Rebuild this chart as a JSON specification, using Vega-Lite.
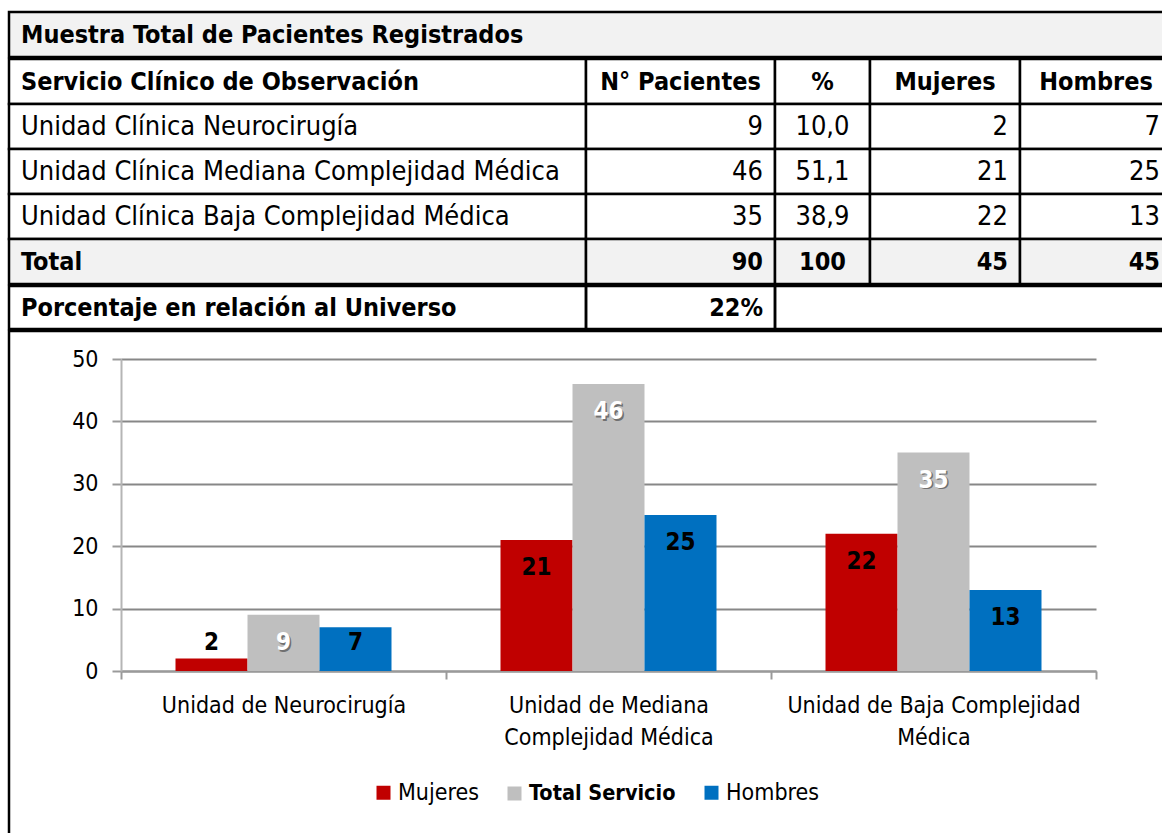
{
  "$schema": "https://vega.github.io/schema/vega-lite/v6.json",
  "padding": {"left": 7, "top": 10, "right": 0, "bottom": 0},
  "background": "white",
  "spacing": -5,
  "datasets": {
    "titulo": [{"titulo": "Muestra Total de Pacientes Registrados"}],
    "tabla": [
      {"servicio": "Servicio Clínico de Observación", "pacientes": "N° Pacientes", "porcentaje": "%", "mujeres": "Mujeres", "hombres": "Hombres"},
      {"servicio": "Unidad Clínica Neurocirugía", "pacientes": "9", "porcentaje": "10,0", "mujeres": "2", "hombres": "7"},
      {"servicio": "Unidad Clínica Mediana Complejidad Médica", "pacientes": "46", "porcentaje": "51,1", "mujeres": "21", "hombres": "25"},
      {"servicio": "Unidad Clínica Baja Complejidad Médica", "pacientes": "35", "porcentaje": "38,9", "mujeres": "22", "hombres": "13"},
      {"servicio": "Total", "pacientes": "90", "porcentaje": "100", "mujeres": "45", "hombres": "45"}
    ],
    "universo": [{"servicio": "Porcentaje en relación al Universo", "valor": "22%", "resto": ""}],
    "grafico": [
      {"unidad": "Unidad de Neurocirugía", "serie": "Mujeres", "valor": 2},
      {"unidad": "Unidad de Neurocirugía", "serie": "Total Servicio", "valor": 9},
      {"unidad": "Unidad de Neurocirugía", "serie": "Hombres", "valor": 7},
      {"unidad": "Unidad de Mediana Complejidad Médica", "serie": "Mujeres", "valor": 21},
      {"unidad": "Unidad de Mediana Complejidad Médica", "serie": "Total Servicio", "valor": 46},
      {"unidad": "Unidad de Mediana Complejidad Médica", "serie": "Hombres", "valor": 25},
      {"unidad": "Unidad de Baja Complejidad Médica", "serie": "Mujeres", "valor": 22},
      {"unidad": "Unidad de Baja Complejidad Médica", "serie": "Total Servicio", "valor": 35},
      {"unidad": "Unidad de Baja Complejidad Médica", "serie": "Hombres", "valor": 13}
    ]
  },
  "vconcat": [
    {
      "width": 1163, "height": 45,
      "view": {"fill": "#f2f2f2", "stroke": "black", "strokeWidth": 2.5},
      "data": {"name": "titulo"},
      "mark": {"type": "text", "align": "left", "dx": 12, "fontWeight": "bold", "fontSize": 25},
      "encoding": {
        "x": {"datum": "t", "type": "nominal", "axis": null, "bandPosition": 0, "scale": {"type": "band", "paddingInner": 0, "paddingOuter": 0}},
        "text": {"field": "titulo"}
      }
    },
    {
      "bounds": "flush",
      "spacing": 0,
      "hconcat": [
        {
          "width": 577, "height": 225,
          "data": {"name": "tabla"},
          "encoding": {
            "y": {"field": "servicio", "type": "nominal", "axis": null, "scale": {"domain": ["Servicio Clínico de Observación", "Unidad Clínica Neurocirugía", "Unidad Clínica Mediana Complejidad Médica", "Unidad Clínica Baja Complejidad Médica", "Total"], "paddingInner": 0, "paddingOuter": 0}},
            "x": {"datum": "c", "type": "nominal", "axis": null, "scale": {"type": "band", "paddingInner": 0, "paddingOuter": 0}}
          },
          "layer": [
            {"mark": {"type": "rect", "stroke": "black", "strokeWidth": 2.5},
             "encoding": {"fill": {"condition": {"test": "datum.servicio == 'Total'", "value": "#f2f2f2"}, "value": "white"}}},
            {"transform": [{"filter": "datum.servicio == 'Total' || datum.servicio == 'Servicio Clínico de Observación'"}],
             "mark": {"type": "text", "align": "left", "dx": 12, "fontWeight": "bold", "fontSize": 25},
             "encoding": {"text": {"field": "servicio"}, "x": {"datum": "c", "type": "nominal", "bandPosition": 0}}},
            {"transform": [{"filter": "datum.servicio != 'Total' && datum.servicio != 'Servicio Clínico de Observación'"}],
             "mark": {"type": "text", "align": "left", "dx": 12, "fontSize": 27},
             "encoding": {"text": {"field": "servicio"}, "x": {"datum": "c", "type": "nominal", "bandPosition": 0}}}
          ]
        },
        {
          "width": 189, "height": 225,
          "data": {"name": "tabla"},
          "encoding": {
            "y": {"field": "servicio", "type": "nominal", "axis": null, "scale": {"domain": ["Servicio Clínico de Observación", "Unidad Clínica Neurocirugía", "Unidad Clínica Mediana Complejidad Médica", "Unidad Clínica Baja Complejidad Médica", "Total"], "paddingInner": 0, "paddingOuter": 0}},
            "x": {"datum": "c", "type": "nominal", "axis": null, "scale": {"type": "band", "paddingInner": 0, "paddingOuter": 0}}
          },
          "layer": [
            {"mark": {"type": "rect", "stroke": "black", "strokeWidth": 2.5},
             "encoding": {"fill": {"condition": {"test": "datum.servicio == 'Total'", "value": "#f2f2f2"}, "value": "white"}}},
            {"transform": [{"filter": "datum.servicio == 'Servicio Clínico de Observación'"}],
             "mark": {"type": "text", "align": "center", "fontWeight": "bold", "fontSize": 25},
             "encoding": {"text": {"field": "pacientes"}}},
            {"transform": [{"filter": "datum.servicio != 'Servicio Clínico de Observación'"}],
             "mark": {"type": "text", "align": "right", "dx": -12, "fontSize": {"expr": "datum.servicio == 'Total' ? 25 : 27"}, "fontWeight": {"expr": "datum.servicio == 'Total' ? 'bold' : 'normal'"}},
             "encoding": {"text": {"field": "pacientes"}, "x": {"datum": "c", "type": "nominal", "bandPosition": 1}}}
          ]
        },
        {
          "width": 95, "height": 225,
          "data": {"name": "tabla"},
          "encoding": {
            "y": {"field": "servicio", "type": "nominal", "axis": null, "scale": {"domain": ["Servicio Clínico de Observación", "Unidad Clínica Neurocirugía", "Unidad Clínica Mediana Complejidad Médica", "Unidad Clínica Baja Complejidad Médica", "Total"], "paddingInner": 0, "paddingOuter": 0}},
            "x": {"datum": "c", "type": "nominal", "axis": null, "scale": {"type": "band", "paddingInner": 0, "paddingOuter": 0}}
          },
          "layer": [
            {"mark": {"type": "rect", "stroke": "black", "strokeWidth": 2.5},
             "encoding": {"fill": {"condition": {"test": "datum.servicio == 'Total'", "value": "#f2f2f2"}, "value": "white"}}},
            {"mark": {"type": "text", "align": "center",
                      "fontSize": {"expr": "datum.servicio == 'Total' || datum.servicio == 'Servicio Clínico de Observación' ? 25 : 27"},
                      "fontWeight": {"expr": "datum.servicio == 'Total' || datum.servicio == 'Servicio Clínico de Observación' ? 'bold' : 'normal'"}},
             "encoding": {"text": {"field": "porcentaje"}}}
          ]
        },
        {
          "width": 150, "height": 225,
          "data": {"name": "tabla"},
          "encoding": {
            "y": {"field": "servicio", "type": "nominal", "axis": null, "scale": {"domain": ["Servicio Clínico de Observación", "Unidad Clínica Neurocirugía", "Unidad Clínica Mediana Complejidad Médica", "Unidad Clínica Baja Complejidad Médica", "Total"], "paddingInner": 0, "paddingOuter": 0}},
            "x": {"datum": "c", "type": "nominal", "axis": null, "scale": {"type": "band", "paddingInner": 0, "paddingOuter": 0}}
          },
          "layer": [
            {"mark": {"type": "rect", "stroke": "black", "strokeWidth": 2.5},
             "encoding": {"fill": {"condition": {"test": "datum.servicio == 'Total'", "value": "#f2f2f2"}, "value": "white"}}},
            {"transform": [{"filter": "datum.servicio == 'Servicio Clínico de Observación'"}],
             "mark": {"type": "text", "align": "center", "fontWeight": "bold", "fontSize": 25},
             "encoding": {"text": {"field": "mujeres"}}},
            {"transform": [{"filter": "datum.servicio != 'Servicio Clínico de Observación'"}],
             "mark": {"type": "text", "align": "right", "dx": -12, "fontSize": {"expr": "datum.servicio == 'Total' ? 25 : 27"}, "fontWeight": {"expr": "datum.servicio == 'Total' ? 'bold' : 'normal'"}},
             "encoding": {"text": {"field": "mujeres"}, "x": {"datum": "c", "type": "nominal", "bandPosition": 1}}}
          ]
        },
        {
          "width": 152, "height": 225,
          "data": {"name": "tabla"},
          "encoding": {
            "y": {"field": "servicio", "type": "nominal", "axis": null, "scale": {"domain": ["Servicio Clínico de Observación", "Unidad Clínica Neurocirugía", "Unidad Clínica Mediana Complejidad Médica", "Unidad Clínica Baja Complejidad Médica", "Total"], "paddingInner": 0, "paddingOuter": 0}},
            "x": {"datum": "c", "type": "nominal", "axis": null, "scale": {"type": "band", "paddingInner": 0, "paddingOuter": 0}}
          },
          "layer": [
            {"mark": {"type": "rect", "stroke": "black", "strokeWidth": 2.5},
             "encoding": {"fill": {"condition": {"test": "datum.servicio == 'Total'", "value": "#f2f2f2"}, "value": "white"}}},
            {"transform": [{"filter": "datum.servicio == 'Servicio Clínico de Observación'"}],
             "mark": {"type": "text", "align": "center", "fontWeight": "bold", "fontSize": 25},
             "encoding": {"text": {"field": "hombres"}}},
            {"transform": [{"filter": "datum.servicio != 'Servicio Clínico de Observación'"}],
             "mark": {"type": "text", "align": "right", "dx": -12, "fontSize": {"expr": "datum.servicio == 'Total' ? 25 : 27"}, "fontWeight": {"expr": "datum.servicio == 'Total' ? 'bold' : 'normal'"}},
             "encoding": {"text": {"field": "hombres"}, "x": {"datum": "c", "type": "nominal", "bandPosition": 1}}}
          ]
        }
      ]
    },
    {
      "bounds": "flush",
      "spacing": 0,
      "hconcat": [
        {
          "width": 577, "height": 43,
          "view": {"stroke": "black", "strokeWidth": 2.5},
          "data": {"name": "universo"},
          "mark": {"type": "text", "align": "left", "dx": 12, "fontWeight": "bold", "fontSize": 25},
          "encoding": {
            "x": {"datum": "c", "type": "nominal", "axis": null, "bandPosition": 0, "scale": {"type": "band", "paddingInner": 0, "paddingOuter": 0}},
            "text": {"field": "servicio"}
          }
        },
        {
          "width": 189, "height": 43,
          "view": {"stroke": "black", "strokeWidth": 2.5},
          "data": {"name": "universo"},
          "mark": {"type": "text", "align": "right", "dx": -12, "fontWeight": "bold", "fontSize": 25},
          "encoding": {
            "x": {"datum": "c", "type": "nominal", "axis": null, "bandPosition": 1, "scale": {"type": "band", "paddingInner": 0, "paddingOuter": 0}},
            "text": {"field": "valor"}
          }
        },
        {
          "width": 397, "height": 43,
          "view": {"stroke": "black", "strokeWidth": 2.5},
          "data": {"name": "universo"},
          "mark": {"type": "text"},
          "encoding": {"text": {"field": "resto"}}
        }
      ]
    },
    {
      "width": 1163, "height": 515,
      "view": {"stroke": "black", "strokeWidth": 2.5},
      "data": {"name": "grafico"},
      "encoding": {
        "x": {"field": "unidad", "type": "nominal",
              "scale": {"domain": ["Unidad de Neurocirugía", "Unidad de Mediana Complejidad Médica", "Unidad de Baja Complejidad Médica"], "range": [112, 1087], "paddingInner": 0, "paddingOuter": 0},
              "axis": {"orient": "bottom", "offset": -175, "title": null, "labelAngle": 0, "tickBand": "extent", "tickSize": 8, "tickWidth": 2, "tickColor": "#9a9a9a", "domainColor": "#9a9a9a", "domainWidth": 2,
                       "labelFontSize": 23, "labelColor": "black", "labelPadding": 15, "labelLineHeight": 32, "labelLimit": 500, "labelOverlap": false,
                       "labelExpr": "datum.value == 'Unidad de Mediana Complejidad Médica' ? ['Unidad de Mediana', 'Complejidad Médica'] : datum.value == 'Unidad de Baja Complejidad Médica' ? ['Unidad de Baja Complejidad', 'Médica'] : datum.value"}},
        "xOffset": {"field": "serie", "type": "nominal", "scale": {"domain": ["Mujeres", "Total Servicio", "Hombres"], "paddingInner": 0, "paddingOuter": 0.757}}
      },
      "layer": [
        {
          "mark": {"type": "bar"},
          "encoding": {
            "y": {"field": "valor", "type": "quantitative",
                  "scale": {"domain": [0, 50], "range": [340, 28], "nice": false},
                  "axis": {"offset": -112, "title": null, "values": [0, 10, 20, 30, 40, 50], "grid": true, "gridColor": "#878787", "gridWidth": 2,
                           "domainColor": "#b5b5b5", "domainWidth": 2, "tickColor": "#9a9a9a", "tickWidth": 2, "tickSize": 9,
                           "labelFontSize": 23, "labelColor": "black", "labelPadding": 14}},
            "color": {"field": "serie", "type": "nominal",
                      "scale": {"domain": ["Mujeres", "Total Servicio", "Hombres"], "range": ["#c00000", "#bfbfbf", "#0070c0"]},
                      "legend": {"orient": "none", "legendX": 363, "legendY": 769, "direction": "horizontal", "title": null,
                                 "symbolType": "square", "symbolSize": 196, "symbolStrokeWidth": 0, "symbolOpacity": 1,
                                 "labelFontSize": {"expr": "datum.label == 'Total Servicio' ? 21.5 : 23"}, "labelColor": "black", "labelOffset": 3, "columnPadding": 24,
                                 "labelFontWeight": {"expr": "datum.label == 'Total Servicio' ? 'bold' : 'normal'"}}}
          }
        },
        {
          "transform": [{"filter": "datum.serie == 'Total Servicio'"}],
          "mark": {"type": "text", "fontSize": 24, "fontWeight": "bold", "baseline": "middle", "dx": 1.5, "dy": 1.5, "fill": "#707070"},
          "encoding": {
            "y": {"field": "valor", "type": "quantitative", "scale": {"domain": [9, 59], "range": [312, 0], "clamp": true, "nice": false, "zero": false}, "axis": null},
            "text": {"field": "valor"}
          }
        },
        {
          "mark": {"type": "text", "fontSize": 24, "fontWeight": "bold", "baseline": "middle"},
          "encoding": {
            "y": {"field": "valor", "type": "quantitative", "scale": {"domain": [9, 59], "range": [312, 0], "clamp": true, "nice": false, "zero": false}, "axis": null},
            "text": {"field": "valor"},
            "fill": {"condition": {"test": "datum.serie == 'Total Servicio'", "value": "white"}, "value": "black"}
          }
        }
      ],
      "resolve": {"scale": {"y": "independent"}}
    }
  ],
  "config": {
    "font": "DejaVu Sans Condensed",
    "text": {"font": "DejaVu Sans Condensed", "fontSize": 27, "color": "black"},
    "axis": {"labelFont": "DejaVu Sans Condensed"},
    "legend": {"labelFont": "DejaVu Sans Condensed"},
    "view": {"stroke": null},
    "concat": {"spacing": 0}
  }
}
